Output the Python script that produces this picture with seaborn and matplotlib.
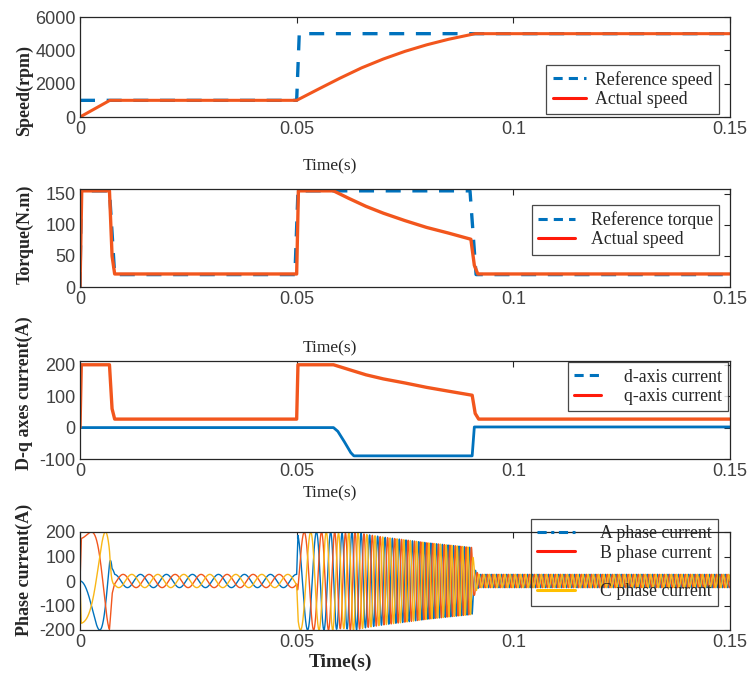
import numpy as np
import matplotlib
matplotlib.use("Agg")
import matplotlib.pyplot as plt
import seaborn as sns
from matplotlib.lines import Line2D

# ---------------- data ----------------
x_ticks = [0, 0.05, 0.1, 0.15]
x_tick_labels = ["0", "0.05", "0.1", "0.15"]

# Speed (rpm)
ref_speed_t = [0, 0.0500, 0.0506, 0.15]
ref_speed = [1000, 1000, 5000, 5000]
act_speed_t = [0, 0.0069, 0.0500, 0.0550, 0.0600, 0.0650, 0.0700, 0.0750, 0.0800, 0.0850, 0.0912, 0.15]
act_speed = [0, 1000, 1000, 1670, 2330, 2950, 3480, 3940, 4330, 4660, 5000, 5000]

# Torque (N.m)
ref_torque_t = [0, 0.0003, 0.0068, 0.0080, 0.0496, 0.0503, 0.0900, 0.0914, 0.15]
ref_torque = [0, 155, 155, 20, 20, 155, 155, 20, 20]
act_torque_t = [0, 0.0004, 0.0068, 0.0074, 0.0080, 0.0500, 0.0504, 0.0585, 0.0620, 0.0660,
                0.0700, 0.0750, 0.0800, 0.0850, 0.0902, 0.0910, 0.0918, 0.15]
act_torque = [0, 155, 155, 50, 21, 21, 155, 155, 143, 130, 119, 107, 96, 87, 77, 35, 21, 21]

# d-q currents (A)
iq_t = [0, 0.0003, 0.0068, 0.0074, 0.0080, 0.0500, 0.0503, 0.0585, 0.0620, 0.0660, 0.0700,
        0.0750, 0.0800, 0.0850, 0.0905, 0.0912, 0.0920, 0.15]
iq = [0, 200, 200, 60, 27, 27, 200, 200, 185, 168, 155, 142, 128, 116, 103, 45, 27, 27]
id_t = [0, 0.0585, 0.0595, 0.0610, 0.0625, 0.0632, 0.0905, 0.0910, 0.15]
id_ = [0, 0, -12, -45, -80, -90, -90, 2, 2]

pole_pairs = 10  # electrical cycles per mechanical revolution (read from cycle count)

speed_ylim, speed_yticks = (0, 6000), [0, 2000, 4000, 6000]
torque_ylim, torque_yticks = (0, 158), [0, 50, 100, 150]
dq_ylim, dq_yticks = (-100, 212), [-100, 0, 100, 200]
ph_ylim, ph_yticks = (-200, 200), [-200, -100, 0, 100, 200]

# ---------------- phase currents from d-q currents + rotor angle ----------------
dt = 2e-6
t = np.arange(0, 0.15 + dt, dt)
w = np.interp(t, act_speed_t, act_speed)               # rpm
theta = pole_pairs * 2 * np.pi * np.cumsum(w / 60.0) * dt
d_s = np.interp(t, id_t, id_)
q_s = np.interp(t, iq_t, iq)
ia = d_s * np.cos(theta) - q_s * np.sin(theta)
ib = d_s * np.cos(theta - 2 * np.pi / 3) - q_s * np.sin(theta - 2 * np.pi / 3)
ic = d_s * np.cos(theta + 2 * np.pi / 3) - q_s * np.sin(theta + 2 * np.pi / 3)

# ---------------- style ----------------
sns.set_theme(style="white")
plt.rcParams["font.family"] = ["Liberation Serif", "DejaVu Serif"]

BLUE = "#0072BD"
ORANGE = "#F2561D"
YELLOW = "#F9B617"
LEG_RED = "#FF1A0A"
LEG_YEL = "#FFC000"
TICK_C = "#404040"

W, H = 747, 673
fig = plt.figure(figsize=(W / 100, H / 100), dpi=100)


def add_ax(top, bottom, left=80, right=730):
    return fig.add_axes([left / W, (H - bottom) / H, (right - left) / W, (bottom - top) / H])


ax1 = add_ax(17, 117)
ax2 = add_ax(189, 287)
ax3 = add_ax(361, 459)
ax4 = add_ax(532, 630)

lp = dict(estimator=None, sort=False, legend=False)

# Speed
sns.lineplot(x=ref_speed_t, y=ref_speed, ax=ax1, color=BLUE, lw=2.4, dashes=False,
             linestyle=(0, (4.5, 3.5)), **lp)
sns.lineplot(x=act_speed_t, y=act_speed, ax=ax1, color=ORANGE, lw=2.2, **lp)

# Torque
sns.lineplot(x=ref_torque_t, y=ref_torque, ax=ax2, color=BLUE, lw=2.4,
             linestyle=(0, (4.5, 3.5)), **lp)
sns.lineplot(x=act_torque_t, y=act_torque, ax=ax2, color=ORANGE, lw=2.4, **lp)

# d-q currents
sns.lineplot(x=id_t, y=id_, ax=ax3, color=BLUE, lw=2.0, **lp)
sns.lineplot(x=iq_t, y=iq, ax=ax3, color=ORANGE, lw=2.4, **lp)

# phase currents
sns.lineplot(x=t, y=ia, ax=ax4, color=BLUE, lw=1.0, **lp)
sns.lineplot(x=t, y=ib, ax=ax4, color=ORANGE, lw=1.0, **lp)
sns.lineplot(x=t, y=ic, ax=ax4, color=YELLOW, lw=1.0, **lp)

ylab_font = dict(family=["Liberation Serif"], weight="bold", size=13)
specs = [
    (ax1, speed_ylim, speed_yticks, "Speed(rpm)", 0.27, -0.49),
    (ax2, torque_ylim, torque_yticks, "Torque(N.m)", 0.54, -0.63),
    (ax3, dq_ylim, dq_yticks, "D-q axes current(A)", 0.67, -0.35),
    (ax4, ph_ylim, ph_yticks, "Phase current(A)", 0.61, -0.33),
]
for i, (ax, yl, yt, lab, ly, tx) in enumerate(specs):
    ax.set_xlim(0, 0.15)
    ax.set_ylim(*yl)
    ax.set_xticks(x_ticks)
    ax.set_xticklabels(x_tick_labels)
    ax.set_yticks(yt)
    ax.set_yticklabels([str(v) for v in yt])
    ax.tick_params(direction="in", top=True, right=True, length=4, width=0.8,
                   color="#262626", labelcolor=TICK_C, labelsize=13, pad=3)
    for lbl in ax.get_xticklabels() + ax.get_yticklabels():
        lbl.set_family(["Liberation Sans"])
    for s in ax.spines.values():
        s.set_color("#262626")
        s.set_linewidth(0.9)
    ax.set_ylabel(lab, fontdict=ylab_font)
    ax.yaxis.label.set_va("center")
    ax.yaxis.set_label_coords(-0.085, ly)
    if i < 3:
        ax.set_xlabel("Time(s)", family=["Liberation Serif"], size=12.5)
        ax.xaxis.set_label_coords(0.385, tx)
    else:
        ax.set_xlabel("Time(s)", family=["Liberation Serif"], size=14, weight="bold")
        ax.xaxis.set_label_coords(0.40, tx)
    ax.xaxis.label.set_va("center")

leg_kw = dict(fontsize=12.8, frameon=True, fancybox=False, edgecolor="#1a1a1a",
              borderaxespad=0.0, borderpad=0.35, labelspacing=0.12)

h1 = [Line2D([], [], color=BLUE, lw=2.2, linestyle=(0, (3, 2))),
      Line2D([], [], color=LEG_RED, lw=2.2)]
l1 = ax1.legend(h1, ["Reference speed", "Actual speed"], loc="lower right",
                bbox_to_anchor=(0.983, 0.03), handlelength=1.9, handletextpad=0.5, **leg_kw)
l1.get_frame().set_linewidth(0.9)

h2 = [Line2D([], [], color=BLUE, lw=2.2, linestyle=(0, (3, 2))),
      Line2D([], [], color=LEG_RED, lw=2.2)]
l2 = ax2.legend(h2, ["Reference torque", "Actual speed"], loc="lower right",
                bbox_to_anchor=(0.983, 0.33), handlelength=2.1, handletextpad=0.85, **leg_kw)
l2.get_frame().set_linewidth(0.9)

h3 = [Line2D([], [], color=BLUE, lw=2.2, linestyle=(0, (3, 2))),
      Line2D([], [], color=LEG_RED, lw=2.2)]
l3 = ax3.legend(h3, ["d-axis current", "q-axis current"], loc="lower right",
                bbox_to_anchor=(0.997, 0.49), handlelength=1.5, handletextpad=1.3, **leg_kw)
l3.get_frame().set_linewidth(0.9)

h4 = [Line2D([], [], color=BLUE, lw=2.2, linestyle=(0, (3, 1.5, 1, 1.5))),
      Line2D([], [], color=LEG_RED, lw=2.2),
      Line2D([], [], color="none", lw=0),
      Line2D([], [], color=LEG_YEL, lw=2.2)]
l4 = ax4.legend(h4, ["A phase current", "B phase current", " ", "C phase current"],
                loc="lower right", bbox_to_anchor=(0.982, 0.245), handlelength=2.1,
                handletextpad=1.45, **leg_kw)
l4.get_frame().set_facecolor("none")
l4.get_frame().set_linewidth(0.9)

fig.savefig("out.png", dpi=100)
